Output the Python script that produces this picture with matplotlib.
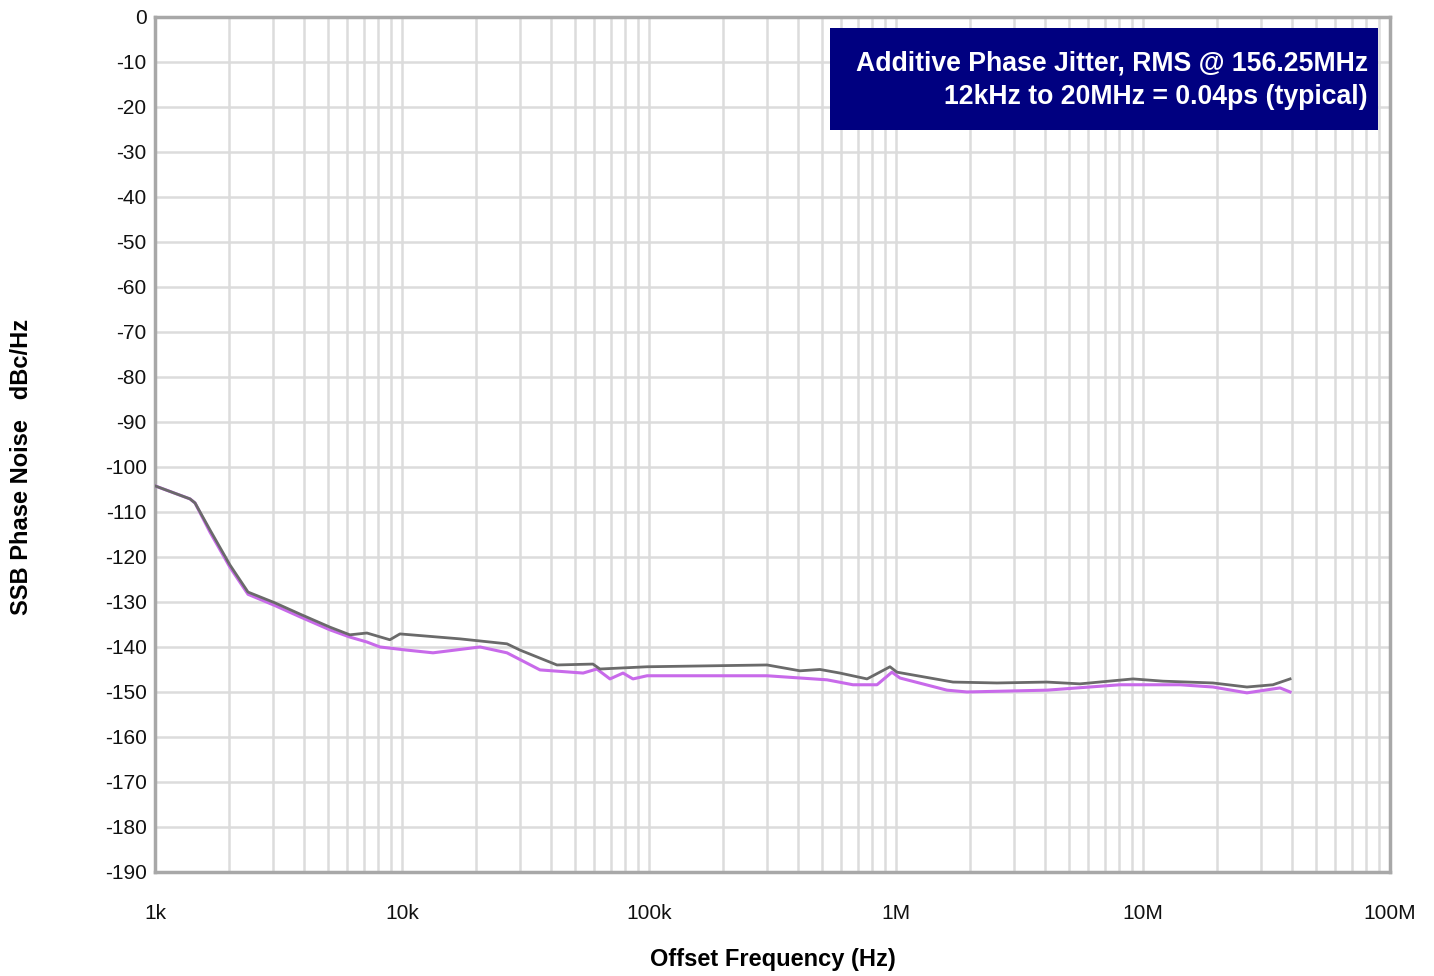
import matplotlib
matplotlib.use("Agg")
import matplotlib.pyplot as plt
from matplotlib.patches import Rectangle
from matplotlib.ticker import FixedLocator, LogLocator, NullFormatter

plt.rcParams['font.family'] = ['Liberation Sans', 'DejaVu Sans']

# Gray trace (freq Hz, dBc/Hz)
gray_freq = [1000, 1386, 1452, 1670, 2012, 2380, 3060, 3864, 5110, 6150, 7210, 8930, 9810,
             17170, 26600, 30060, 42400, 59300, 63300, 98200, 300600, 408500, 492300, 593000,
             763500, 945500, 1009000, 1702000, 2563000, 4085000, 5556000, 9110000, 12050000,
             19200000, 26360000, 33580000, 39400000]
gray_db = [-104.2, -107.1, -108, -114, -121.8, -127.8, -130.2, -132.7, -135.6, -137.3, -136.9, -138.4, -137.1,
           -138.2, -139.3, -140.7, -144, -143.8, -144.9, -144.4, -144, -145.3, -145, -145.8,
           -147.1, -144.4, -145.6, -147.8, -148, -147.8, -148.2, -147.1, -147.6,
           -148, -148.9, -148.4, -147.1]

# Magenta trace
mag_freq = [1000, 1386, 1452, 1670, 2012, 2380, 3060, 3864, 5110, 6150, 7210, 8140, 10470,
            13350, 20700, 26600, 36200, 54100, 61500, 69500, 78500, 86100, 98200, 300600,
            525500, 669700, 837700, 885000, 963000, 1038000, 1609000, 1937000, 4085000,
            8070000, 14120000, 19200000, 26360000, 35880000, 39400000]
mag_db = [-104.2, -107.1, -108, -114.5, -122.3, -128.3, -130.8, -133.3, -136.2, -137.8, -138.9, -140, -140.7,
          -141.3, -140, -141.3, -145.1, -145.8, -144.9, -147.1, -145.8, -147.1, -146.4, -146.4,
          -147.3, -148.4, -148.4, -147.3, -145.6, -146.9, -149.6, -150, -149.6,
          -148.4, -148.4, -148.9, -150.2, -149.1, -150]

x_ticks = [1e3, 1e4, 1e5, 1e6, 1e7, 1e8]
x_labels = ['1k', '10k', '100k', '1M', '10M', '100M']
y_ticks = list(range(0, -200, -10))

fig = plt.figure(figsize=(14.34, 9.76), dpi=100)
ax = fig.add_axes([0.1081, 0.1066, 0.8612, 0.876])
ax.set_xscale('log')
ax.set_xlim(1e3, 1e8)
ax.set_ylim(-190, 0)

ax.plot(mag_freq, mag_db, color='#C86AEA', lw=2.2, zorder=3)
ax.plot(gray_freq, gray_db, color='#6A6A6A', lw=2.0, zorder=4)

ax.xaxis.set_major_locator(FixedLocator(x_ticks))
ax.set_xticklabels(x_labels)
ax.xaxis.set_minor_locator(LogLocator(base=10, subs=range(2, 10)))
ax.xaxis.set_minor_formatter(NullFormatter())
ax.set_yticks(y_ticks)
ax.set_yticklabels([str(v) for v in y_ticks])

ax.grid(True, which='major', axis='both', color='#DCDCDC', lw=1.8)
ax.grid(True, which='minor', axis='x', color='#DCDCDC', lw=1.8)
ax.set_axisbelow(True)

ax.tick_params(axis='both', which='both', length=0, labelsize=15, colors='#111111')
ax.tick_params(axis='x', pad=23)
ax.tick_params(axis='y', pad=6)

for s in ax.spines.values():
    s.set_color('#A8A8A8')
    s.set_linewidth(2.5)

ax.set_xlabel('Offset Frequency (Hz)', fontsize=17, fontweight='bold', labelpad=18)
fig.text(0.015, 0.522, 'SSB Phase Noise   dBc/Hz', rotation=90, fontsize=17,
         fontweight='bold', ha='center', va='center')

ax.add_patch(Rectangle((0.5466, 0.868), 0.4437, 0.119, transform=ax.transAxes,
                       facecolor='#000080', edgecolor='none', zorder=5))
ax.text(0.9822, 0.926, 'Additive Phase Jitter, RMS @ 156.25MHz\n12kHz to 20MHz = 0.04ps (typical)',
        transform=ax.transAxes, ha='right', va='center', color='white', fontsize=19.2,
        fontweight='bold', linespacing=1.38, zorder=6)

fig.savefig('out.png', dpi=100)
